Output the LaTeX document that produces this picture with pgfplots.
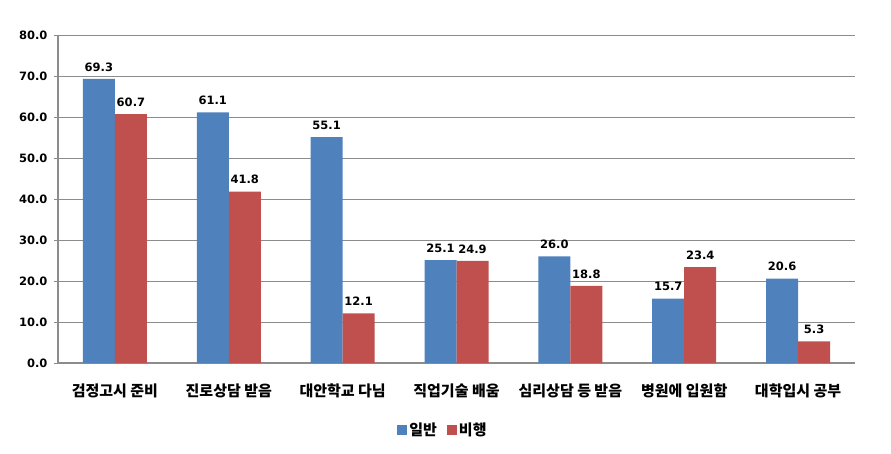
\documentclass[border=0pt]{standalone}
\usepackage{pgfplots}
\pgfplotsset{compat=1.18}
\usepackage{fontspec}
\setmainfont{DejaVu Sans}
\newfontfamily\kr{Noto Sans CJK KR}
\definecolor{ilban}{HTML}{4F81BD}
\definecolor{bihaeng}{HTML}{C0504D}
\definecolor{gridc}{HTML}{8C8C8C}

\begin{document}
\begin{tikzpicture}[x=1pt,y=1pt]
\useasboundingbox (0,0) rectangle (891,453);
\begin{axis}[
  at={(58pt,90pt)}, anchor=south west,
  scale only axis, width=797pt, height=328pt,
  ybar=0pt, bar width=32pt,
  xmin=-0.5, xmax=6.5, ymin=0, ymax=80,
  ytick={0,10,...,80},
  xtick={0,...,6},
  xticklabels={검정고시 준비, 진로상담 받음, 대안학교 다님, 직업기술 배움, 심리상담 등 받음, 병원에 입원함, 대학입시 공부},
  xticklabel style={font=\kr\bfseries\fontsize{15}{16}\selectfont, yshift=-13pt},
  major x tick style={draw=none},
  extra x ticks={-0.5,0.5,...,6.5},
  extra x tick labels={},
  extra x tick style={grid=none, tick align=outside, major tick length=5pt,
    tick style={draw=gridc, line width=1pt}},
  axis x line*=bottom, axis y line*=left,
  axis line style={draw=gridc, line width=1.2pt, -},
  ymajorgrids, grid style={gridc, line width=0.8pt},
  y tick style={draw=gridc, line width=1pt},
  tick align=outside, major tick length=4pt,
  /pgf/number format/assume math mode=true,
  /pgf/number format/.cd, fixed, fixed zerofill, precision=1, /pgfplots/.cd,
  yticklabel style={font=\bfseries\fontsize{11.5}{13}\selectfont, xshift=-3pt},
  nodes near coords,
  nodes near coords style={font=\bfseries\fontsize{11.5}{13}\selectfont,
    /pgf/number format/fixed, /pgf/number format/fixed zerofill,
    /pgf/number format/precision=1, yshift=4pt},
  legend style={at={(0.483,-0.205)}, anchor=center, draw=none,
    font=\kr\bfseries\fontsize{15}{16}\selectfont, legend columns=2,
    /tikz/every even column/.append style={column sep=8pt}},
  legend image code/.code={\fill[#1] (0pt,-5pt) rectangle (10pt,5pt);},
  clip=false,
]
\addplot[fill=ilban, draw=none] coordinates {
  (0,69.3) (1,61.1) (2,55.1) (3,25.1) (4,26.0) (5,15.7) (6,20.6)
};
\addplot[fill=bihaeng, draw=none] coordinates {
  (0,60.7) (1,41.8) (2,12.1) (3,24.9) (4,18.8) (5,23.4) (6,5.3)
};
\legend{일반, 비행}
\end{axis}
\end{tikzpicture}
\end{document}
